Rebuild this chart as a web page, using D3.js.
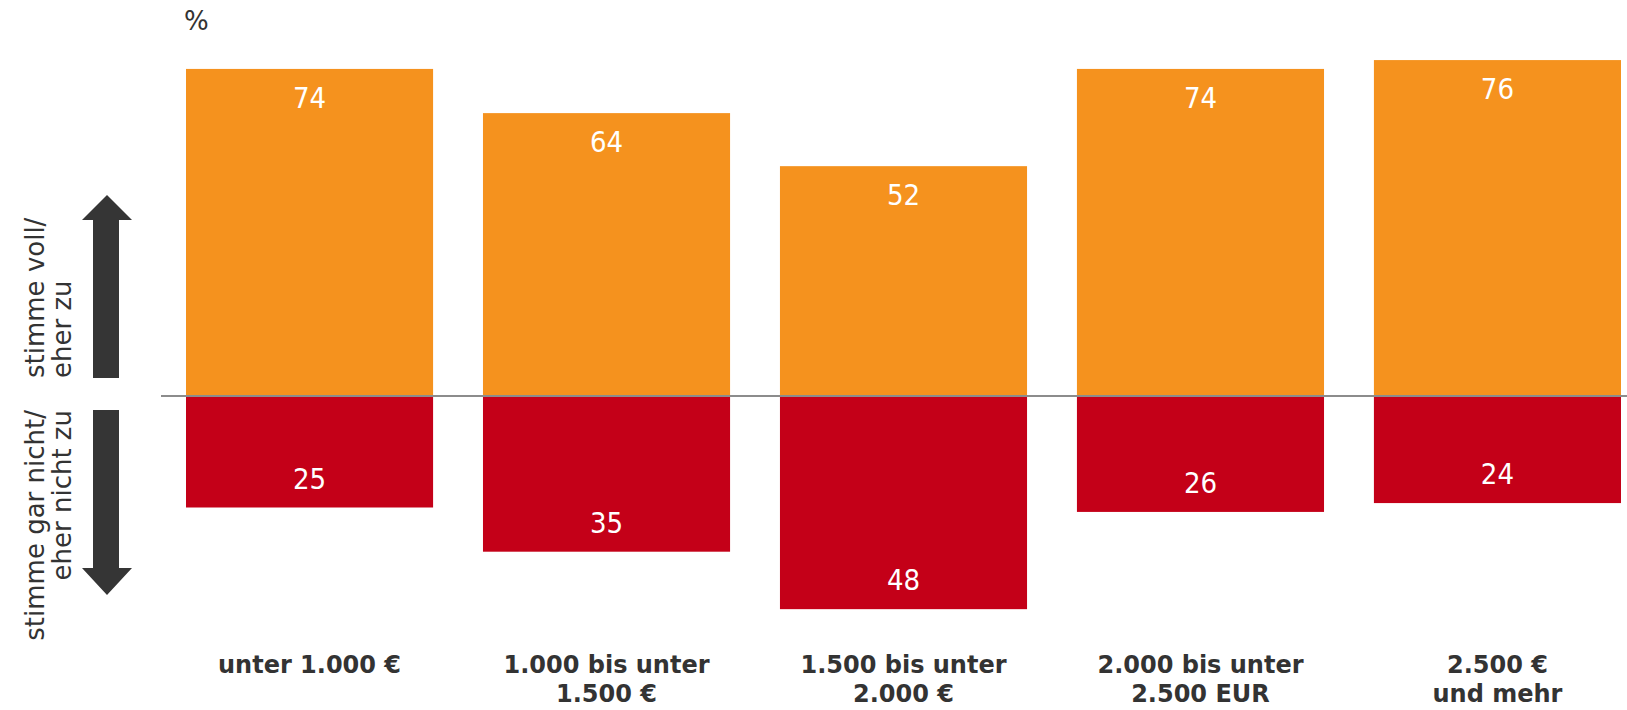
<!DOCTYPE html>
<html>
<head>
<meta charset="utf-8">
<script src="https://cdn.jsdelivr.net/npm/d3@7.9.0/dist/d3.min.js"></script>
<style>
  body { margin: 0; background: #fff; }
  svg { display: block; font-family: "DejaVu Sans", Verdana, sans-serif; }
</style>
</head>
<body>
<svg id="chart" width="1627" height="710"></svg>
<script>
// Einkommensgruppen
const categories = [
  ['unter 1.000 €'],
  ['1.000 bis unter', '1.500 €'],
  ['1.500 bis unter', '2.000 €'],
  ['2.000 bis unter', '2.500 EUR'],
  ['2.500 €', 'und mehr']
];
const agree = [74, 64, 52, 74, 76];      // stimme voll/eher zu
const disagree = [25, 35, 48, 26, 24];   // stimme gar nicht/eher nicht zu

const orange = '#f5921e';
const red = '#c40018';
const textColor = '#333333';

const svg = d3.select('#chart');
const idx = d3.range(categories.length);

const x = d3.scaleBand().domain(idx).range([186, 1621]).paddingInner(0.168).paddingOuter(0);
const y0 = 396;
const y = d3.scaleLinear().domain([0, 100]).range([y0, y0 - 442]);
const yNeg = d3.scaleLinear().domain([0, 100]).range([y0, y0 + 442]);

// positive Balken
svg.append('g').selectAll('rect')
  .data(idx)
  .join('rect')
  .attr('x', i => x(i))
  .attr('y', i => y(agree[i]))
  .attr('width', x.bandwidth())
  .attr('height', i => y0 - y(agree[i]))
  .attr('fill', orange);

// negative Balken
svg.append('g').selectAll('rect')
  .data(idx)
  .join('rect')
  .attr('x', i => x(i))
  .attr('y', y0 + 1)
  .attr('width', x.bandwidth())
  .attr('height', i => yNeg(disagree[i]) - y0)
  .attr('fill', red);

// Nulllinie
svg.append('line')
  .attr('x1', 161).attr('x2', 1627)
  .attr('y1', y0).attr('y2', y0)
  .attr('stroke', '#8c8c8c').attr('stroke-width', 2);

// Werte
const valueFont = 'font-family:"DejaVu Sans Condensed","DejaVu Sans",sans-serif;font-stretch:condensed';
svg.append('g').selectAll('text')
  .data(idx)
  .join('text')
  .attr('x', i => x(i) + x.bandwidth() / 2)
  .attr('y', i => y(agree[i]) + 39)
  .attr('text-anchor', 'middle')
  .attr('style', valueFont)
  .attr('font-size', 29)
  .attr('fill', '#fff')
  .text(i => agree[i]);

svg.append('g').selectAll('text')
  .data(idx)
  .join('text')
  .attr('x', i => x(i) + x.bandwidth() / 2)
  .attr('y', i => yNeg(disagree[i]) - 18)
  .attr('text-anchor', 'middle')
  .attr('style', valueFont)
  .attr('font-size', 29)
  .attr('fill', '#fff')
  .text(i => disagree[i]);

// Kategorien
const cat = svg.append('g').selectAll('text')
  .data(idx)
  .join('text')
  .attr('x', i => x(i) + x.bandwidth() / 2)
  .attr('y', 673)
  .attr('text-anchor', 'middle')
  .attr('font-size', 24)
  .attr('font-weight', 'bold')
  .attr('fill', textColor);
cat.selectAll('tspan')
  .data(i => categories[i])
  .join('tspan')
  .attr('x', function() { return this.parentNode.getAttribute('x'); })
  .attr('dy', (d, j) => j === 0 ? 0 : 29)
  .text(d => d);

// Einheit
svg.append('text')
  .attr('x', 184).attr('y', 30)
  .attr('font-size', 26)
  .attr('fill', textColor)
  .text('%');

// Pfeile
const arrowColor = '#353535';
svg.append('path')
  .attr('d', 'M107,195 L132,220 L119,220 L119,378 L93,378 L93,220 L82,220 Z')
  .attr('fill', arrowColor);
svg.append('path')
  .attr('d', 'M93,410 L119,410 L119,568 L132,568 L107,595 L82,568 L93,568 Z')
  .attr('fill', arrowColor);

// Achsenbeschriftung links
const upper = ['stimme voll/', 'eher zu'];
const lower = ['stimme gar nicht/', 'eher nicht zu'];
const baseX = [44, 71];

svg.append('g').selectAll('text')
  .data(upper)
  .join('text')
  .attr('transform', (d, i) => `translate(${baseX[i]},378) rotate(-90)`)
  .attr('text-anchor', 'start')
  .attr('font-size', 26)
  .attr('fill', textColor)
  .text(d => d);

svg.append('g').selectAll('text')
  .data(lower)
  .join('text')
  .attr('transform', (d, i) => `translate(${baseX[i]},410) rotate(-90)`)
  .attr('text-anchor', 'end')
  .attr('font-size', 26)
  .attr('fill', textColor)
  .text(d => d);
</script>
</body>
</html>
